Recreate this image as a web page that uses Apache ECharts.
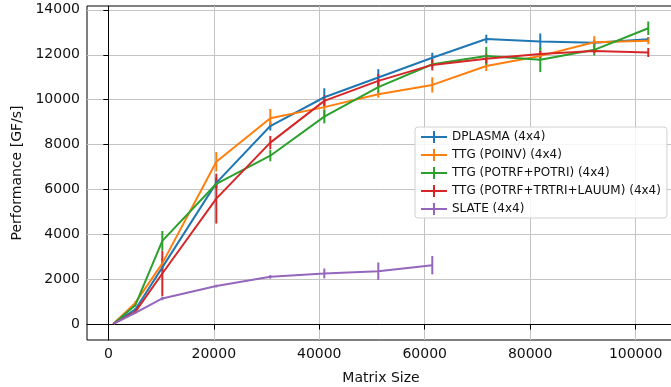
<!DOCTYPE html>
<html>
<head>
<meta charset="utf-8">
<script src="https://cdn.jsdelivr.net/npm/echarts@6/dist/echarts.min.js"></script>
<style>
  html, body { margin: 0; padding: 0; background: #fff; }
  #chart { width: 671px; height: 387px; }
</style>
</head>
<body>
<div id="chart"></div>
<script>
const sizes = [1024, 5120, 10240, 20480, 30720, 40960, 51200, 61440, 71680, 81920, 92160, 102400];

const dplasma = [40, 670, 2540, 6300, 8830, 10110, 10990, 11870, 12700, 12590, 12540, 12690];
const dplasmaErr = [10, 60, 150, 250, 200, 400, 370, 220, 190, 360, 120, 100];

const poinv = [40, 960, 2720, 7240, 9180, 9670, 10240, 10660, 11500, 11950, 12560, 12620];
const poinvErr = [10, 80, 200, 430, 410, 500, 150, 340, 220, 150, 270, 150];

const potrfPotri = [40, 860, 3720, 6260, 7510, 9250, 10560, 11580, 11950, 11780, 12220, 13180];
const potrfPotriErr = [10, 60, 440, 200, 250, 300, 250, 150, 400, 550, 250, 300];

const potrfTrtriLauum = [40, 560, 2270, 5600, 8090, 9950, 10840, 11550, 11820, 12030, 12170, 12100];
const potrfTrtriLauumErr = [10, 60, 1000, 1110, 300, 250, 300, 250, 200, 150, 100, 200];

const slateSizes = [1024, 5120, 10240, 20480, 30720, 40960, 51200, 61440];
const slate = [40, 520, 1160, 1710, 2120, 2270, 2370, 2640];
const slateErr = [5, 40, 80, 60, 80, 220, 390, 410];

const xTicks = [0, 20000, 40000, 60000, 80000, 100000];
const yTicks = [0, 2000, 4000, 6000, 8000, 10000, 12000, 14000];

const seriesDefs = [
  { name: 'DPLASMA (4x4)', color: '#1f77b4', x: sizes, y: dplasma, err: dplasmaErr },
  { name: 'TTG (POINV) (4x4)', color: '#ff7f0e', x: sizes, y: poinv, err: poinvErr },
  { name: 'TTG (POTRF+POTRI) (4x4)', color: '#2ca02c', x: sizes, y: potrfPotri, err: potrfPotriErr },
  { name: 'TTG (POTRF+TRTRI+LAUUM) (4x4)', color: '#d62728', x: sizes, y: potrfTrtriLauum, err: potrfTrtriLauumErr },
  { name: 'SLATE (4x4)', color: '#9467bd', x: slateSizes, y: slate, err: slateErr },
];

// line with a vertical tick, like the matplotlib errorbar handle
const legendIcon = 'path://M0,5 L26,5 L26,7 L0,7 Z M12,0 L14,0 L14,12 L12,12 Z';

const series = [];
seriesDefs.forEach((s) => {
  series.push({
    name: s.name,
    type: 'line',
    data: s.x.map((v, i) => [v, s.y[i]]),
    showSymbol: false,
    symbol: 'none',
    lineStyle: { color: s.color, width: 2 },
    itemStyle: { color: s.color },
    emphasis: { disabled: true },
  });
  series.push({
    name: s.name,
    type: 'custom',
    data: s.x.map((v, i) => [v, s.y[i], s.err[i]]),
    renderItem: (params, api) => {
      const x = api.value(0);
      const y = api.value(1);
      const e = api.value(2);
      const top = api.coord([x, y + e]);
      const bot = api.coord([x, y - e]);
      return {
        type: 'line',
        shape: { x1: top[0], y1: top[1], x2: bot[0], y2: bot[1] },
        style: { stroke: s.color, lineWidth: 2 },
      };
    },
    itemStyle: { color: s.color },
  });
});

const plain = (v) => String(v);

const chart = echarts.init(document.getElementById('chart'), null, { renderer: 'canvas' });

chart.setOption({
  animation: false,
  textStyle: { fontFamily: 'DejaVu Sans' },
  grid: {
    left: 87, top: 6, width: 588, height: 334,
    outerBoundsMode: 'none', containLabel: false,
    show: true, borderColor: '#000', borderWidth: 1, backgroundColor: 'transparent',
  },
  legend: {
    orient: 'vertical',
    left: 415, top: 127,
    data: seriesDefs.map((s) => ({ name: s.name, icon: legendIcon, itemStyle: { color: s.color } })),
    itemWidth: 26, itemHeight: 12, itemGap: 6,
    textStyle: { fontSize: 12, color: '#111', fontFamily: 'DejaVu Sans' },
    backgroundColor: 'rgba(255,255,255,0.85)',
    borderColor: '#d0d0d0', borderWidth: 1, borderRadius: 3,
    padding: [4, 6, 3, 6],
    selectedMode: false,
  },
  xAxis: {
    type: 'value',
    min: -4045, max: 107469,
    name: 'Matrix Size', nameLocation: 'middle', nameGap: 31,
    nameTextStyle: { fontSize: 14, color: '#111' },
    axisLine: { show: true, lineStyle: { color: '#000', width: 1 } },
    axisTick: { show: true, length: 5, customValues: xTicks, lineStyle: { color: '#000' } },
    axisLabel: { customValues: xTicks, formatter: plain, fontSize: 14, color: '#111', margin: 7 },
    splitLine: { show: true, lineStyle: { color: '#c4c4c4', width: 1 } },
  },
  yAxis: {
    type: 'value',
    min: -690, max: 14170,
    name: 'Performance [GF/s]', nameLocation: 'middle', nameGap: 62,
    nameTextStyle: { fontSize: 14, color: '#111' },
    axisLine: { show: true, lineStyle: { color: '#000', width: 1 } },
    axisTick: { show: true, length: 5, customValues: yTicks, lineStyle: { color: '#000' } },
    axisLabel: { customValues: yTicks, formatter: plain, fontSize: 14, color: '#111', margin: 7 },
    splitLine: { show: true, lineStyle: { color: '#c4c4c4', width: 1 } },
  },
  series: series,
});
</script>
</body>
</html>
